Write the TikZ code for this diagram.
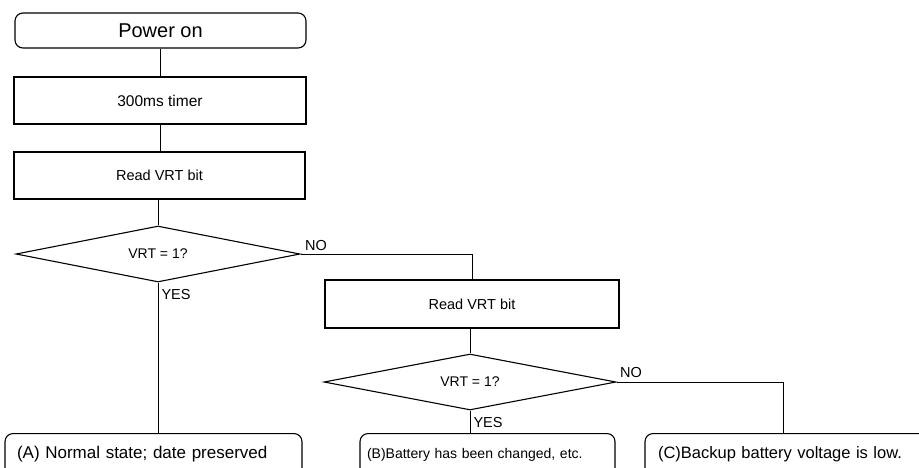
\documentclass[tikz,border=0pt]{standalone}
\usepackage{fontspec}
\setmainfont{Liberation Sans}
\usetikzlibrary{shapes.geometric}
\begin{document}
\begin{tikzpicture}[x=1pt,y=-1pt,line width=1.1pt,
  term/.style={draw,rectangle,rounded corners=8pt,inner sep=0pt},
  proc/.style={draw,rectangle,inner sep=0pt},
  dec/.style={draw,diamond,aspect=5,inner sep=0pt,minimum width=284pt,minimum height=56pt,font=\fontsize{14}{16}\selectfont},
  endbox/.style={draw,rectangle,rounded corners=8pt,inner sep=0pt,minimum height=42pt},
  lbl/.style={inner sep=0pt,font=\fontsize{14.5}{16}\selectfont},
  conn/.style={line width=0.9pt}]
\useasboundingbox (0,0) rectangle (919,467);
\clip (0,0) rectangle (919,467);
\node[term,minimum width=291pt,minimum height=35pt,font=\fontsize{20}{24}\selectfont] (pw) at (160.5,30.5) {Power on};
\node[proc,minimum width=292pt,minimum height=47pt,font=\fontsize{15.5}{18}\selectfont] (tm) at (160,100.5) {300ms timer};
\node[proc,minimum width=291pt,minimum height=47pt,font=\fontsize{14.5}{17}\selectfont] (rd1) at (159.5,175.5) {Read VRT bit};
\node[dec] (d1) at (158,254) {VRT = 1?};
\node[proc,minimum width=294pt,minimum height=48pt,font=\fontsize{14.5}{17}\selectfont] (rd2) at (472,304) {Read VRT bit};
\node[dec,minimum width=292pt] (d2) at (470,382) {VRT = 1?};
\node[endbox,minimum width=297pt,text width=273pt,align=left,anchor=north,font=\fontsize{17}{19}\selectfont] (ea) at (153.5,433) {(A) Normal state; date preserved};
\node[endbox,minimum width=255pt,text width=241pt,align=left,anchor=north,font=\fontsize{14}{16}\selectfont] (eb) at (487.5,433) {(B)Battery has been changed, etc.};
\node[endbox,minimum width=290pt,text width=264pt,align=left,anchor=north,font=\fontsize{16.5}{18}\selectfont] (ec) at (790,433) {(C)Backup battery voltage is low.};
\node[lbl,anchor=south west] (no1) at ([xshift=4pt,yshift=3pt]d1.east) {NO};
\node[lbl,anchor=north west] (yes1) at ([xshift=3pt,yshift=-6pt]d1.south) {YES};
\node[lbl,anchor=south west] (no2) at ([xshift=3pt,yshift=4pt]d2.east) {NO};
\node[lbl,anchor=north west] (yes2) at ([xshift=3pt,yshift=-6pt]d2.south) {YES};
\draw[conn] (pw.south) -- (pw.south |- tm.north);
\draw[conn] (tm.south) -- (tm.south |- rd1.north);
\draw[conn] (d1.north) -- (d1.north |- rd1.south);
\draw[conn] (d1.south) -- (d1.south |- ea.north);
\draw[conn] (d1.east) -| (rd2.north);
\draw[conn] (d2.north) -- (d2.north |- rd2.south);
\draw[conn] (d2.south) -- (d2.south |- eb.north);
\draw[conn] (d2.east) -| ([xshift=-7pt]ec.north);
\end{tikzpicture}
\end{document}
